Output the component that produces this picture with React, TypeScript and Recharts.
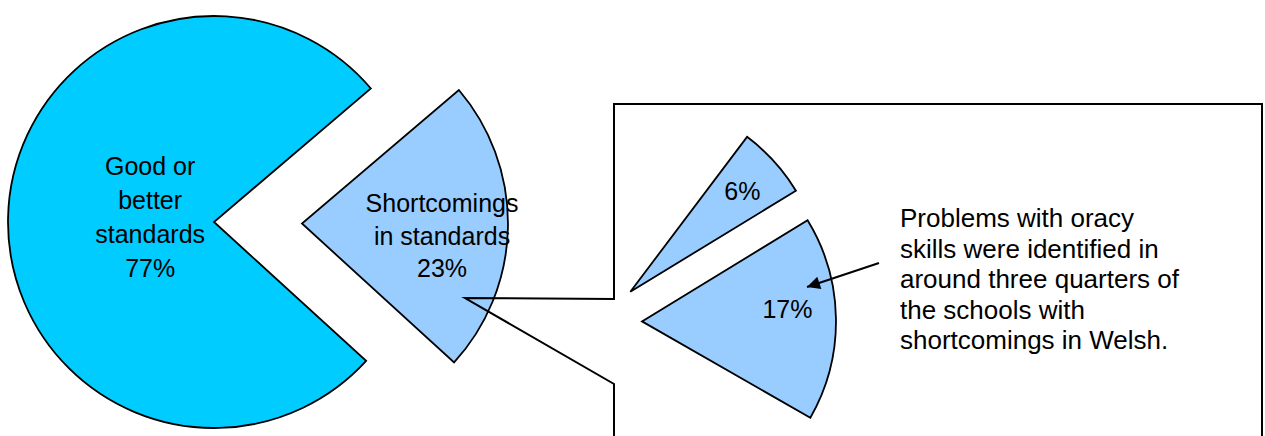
import React from 'react';
import { PieChart, Pie, Cell } from 'recharts';

// main split of schools
const mainNames = ['Good or better standards', 'Shortcomings in standards'];
const mainValues = [77, 23];
const mainLabelLines = [['Good or', 'better', 'standards', '77%'], ['Shortcomings', 'in standards', '23%']];

// breakdown of the 23% with shortcomings
const subNames = ['Oracy problems', 'Other shortcomings'];
const subValues = [17, 6];
const subLabelLines = [['17%'], ['6%']];

const noteLines = [
  'Problems with oracy',
  'skills were identified in',
  'around three quarters of',
  'the schools with',
  'shortcomings in Welsh.',
];

const FONT = '"Liberation Sans", Arial, sans-serif';
const RAD = Math.PI / 180;

const midAngles = (values: number[], start: number, end: number) => {
  const total = values.reduce((a, b) => a + b, 0);
  let a = start;
  return values.map((v) => {
    const span = ((end - start) * v) / total;
    const m = a + span / 2;
    a += span;
    return m;
  });
};

const makeLabel = (k: number, lines: string[], rFactor: number, dy: number, lh: number) => (props: any) => {
  if (props.index !== k) return null;
  const { cx, cy, midAngle, outerRadius } = props;
  const r = outerRadius * rFactor;
  const x = cx + r * Math.cos(-midAngle * RAD);
  const y = cy + r * Math.sin(-midAngle * RAD) + dy;
  return (
    <text x={x} y={y} textAnchor="middle" fontFamily={FONT} fontSize={25} fill="#000">
      {lines.map((l, i) => (
        <tspan key={i} x={x} y={y + 9 + (i - (lines.length - 1) / 2) * lh}>
          {l}
        </tspan>
      ))}
    </text>
  );
};

const App = () => {
  const mainData = mainNames.map((name, i) => ({ name, value: mainValues[i] }));
  // secondary pie keeps the rest of the circle hidden so slices keep their share of 360
  const subData = [
    ...subNames.map((name, i) => ({ name, value: subValues[i] })),
    { name: mainNames[0], value: mainValues[0] },
  ];

  const mainStart = 40.4;
  const mainEnd = mainStart + 360;
  const mainMid = midAngles(mainValues, mainStart, mainEnd);
  const mainExplode = [0, 88];
  const mainColors = ['#00CCFF', '#99CCFF'];
  const mainLabelPos = [
    { r: 0.31, dy: -4 },
    { r: 0.68, dy: 10 },
  ];

  const subStart = -29.8;
  const subEnd = subStart + 360;
  const subMid = midAngles(subData.map((d) => d.value), subStart, subEnd);
  const subExplode = 45;
  const subLabelPos = [
    { r: 0.75, dy: -10 },
    { r: 0.78, dy: 1 },
  ];

  return (
    <div style={{ position: 'absolute', left: 0, top: 0, width: 1265, height: 436 }}>
      <PieChart width={1265} height={436} margin={{ top: 0, right: 0, bottom: 0, left: 0 }}>
        {mainValues.map((_, k) => (
          <Pie
            key={'main' + k}
            data={mainData}
            dataKey="value"
            nameKey="name"
            cx={214 + mainExplode[k] * Math.cos(-mainMid[k] * RAD)}
            cy={222 + mainExplode[k] * Math.sin(-mainMid[k] * RAD)}
            outerRadius={206}
            startAngle={mainStart}
            endAngle={mainEnd}
            isAnimationActive={false}
            labelLine={false}
            label={makeLabel(k, mainLabelLines[k], mainLabelPos[k].r, mainLabelPos[k].dy, k === 0 ? 33.8 : 32.5)}
          >
            {mainData.map((d, i) => (
              <Cell
                key={d.name}
                fill={i === k ? mainColors[k] : 'none'}
                stroke={i === k ? '#000' : 'none'}
                strokeWidth={1.8}
              />
            ))}
          </Pie>
        ))}
        {subValues.map((_, k) => (
          <Pie
            key={'sub' + k}
            data={subData}
            dataKey="value"
            nameKey="name"
            cx={597 + subExplode * Math.cos(-subMid[k] * RAD)}
            cy={322 + subExplode * Math.sin(-subMid[k] * RAD)}
            outerRadius={194}
            startAngle={subStart}
            endAngle={subEnd}
            isAnimationActive={false}
            labelLine={false}
            label={makeLabel(k, subLabelLines[k], subLabelPos[k].r, subLabelPos[k].dy, 30)}
          >
            {subData.map((d, i) => (
              <Cell
                key={d.name}
                fill={i === k ? '#99CCFF' : 'none'}
                stroke={i === k ? '#000' : 'none'}
                strokeWidth={1.8}
              />
            ))}
          </Pie>
        ))}
      </PieChart>
      <svg
        width={1265}
        height={436}
        style={{ position: 'absolute', left: 0, top: 0, pointerEvents: 'none' }}
      >
        <defs>
          <marker id="arrowHead" viewBox="0 0 10 10" refX="10" refY="5" markerWidth="17" markerHeight="13" orient="auto" markerUnits="userSpaceOnUse">
            <path d="M0,0 L10,5 L0,10 z" fill="#000" />
          </marker>
        </defs>
        <path
          d="M614 436 L614 384 L465 298 L614 299 L614 104 L1262 104 L1262 436"
          fill="none"
          stroke="#000"
          strokeWidth={2}
        />
        <line x1={879} y1={263} x2={807} y2={287} stroke="#000" strokeWidth={2} markerEnd="url(#arrowHead)" />
        <text fontFamily={FONT} fontSize={26} fill="#000">
          {noteLines.map((l, i) => (
            <tspan key={i} x={900} y={227 + i * 30.6}>
              {l}
            </tspan>
          ))}
        </text>
      </svg>
    </div>
  );
};

export default App;
